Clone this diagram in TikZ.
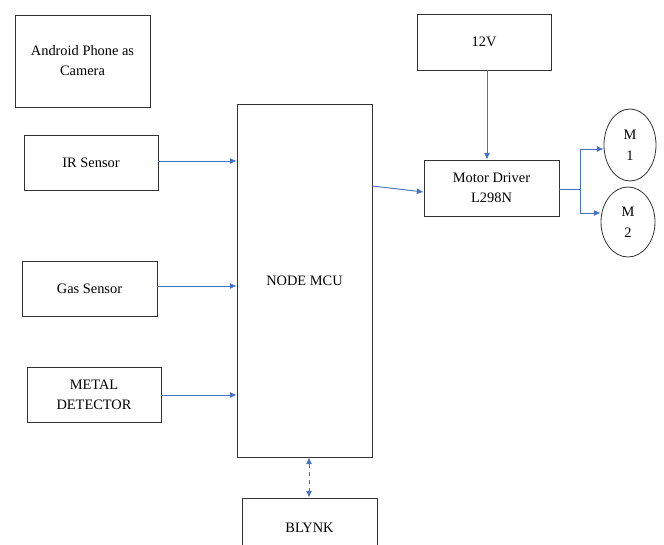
\documentclass[tikz,border=0pt]{standalone}
\usepackage{fontspec}
\setmainfont{Liberation Serif}
\usetikzlibrary{arrows.meta,shapes.geometric}
\definecolor{linkblue}{RGB}{68,114,196}
\newlength\pxu
\setlength\pxu{0.75pt}
\tikzset{
	blockbox/.style={draw=black!80, line width=0.6pt, align=center, font=\fontsize{10.8}{15}\selectfont, inner sep=0pt},
	motorbox/.style={draw=black!80, line width=0.6pt, ellipse, align=center, font=\fontsize{10.8}{16}\selectfont, inner sep=0pt},
	link/.style={draw=linkblue, line width=0.7pt, -{Latex[length=5pt,width=4.5pt]}}
}

\begin{document}
\begin{tikzpicture}[x=0.75pt, y=-0.75pt]
			%%%%% START %%%%%
			
			\useasboundingbox (0, 0) rectangle (664, 544);
			
			\node[blockbox, minimum width=135\pxu, minimum height=92\pxu] (phone) at (82.5, 61) {Android Phone as\\Camera};
			\node[blockbox, minimum width=134\pxu, minimum height=55\pxu] (ir) at (91, 162.5) {IR Sensor};
			\node[blockbox, minimum width=135\pxu, minimum height=55\pxu] (gas) at (89.5, 288.5) {Gas Sensor};
			\node[blockbox, minimum width=134\pxu, minimum height=55\pxu] (metal) at (94, 394.5) {METAL\\DETECTOR};
			
			\node[blockbox, minimum width=135\pxu, minimum height=353\pxu] (mcu) at (304.5, 280.5) {NODE MCU};
			
			\node[blockbox, minimum width=134\pxu, minimum height=56\pxu] (supply) at (484, 42) {12V};
			\node[blockbox, minimum width=135\pxu, minimum height=56\pxu] (driver) at (491.5, 188) {Motor Driver\\L298N};
			
			\node[motorbox, minimum width=52\pxu, minimum height=72\pxu] (mone) at (630, 145) {M\\1};
			\node[motorbox, minimum width=54\pxu, minimum height=70\pxu] (mtwo) at (628, 222) {M\\2};
			
			\node[blockbox, minimum width=135\pxu, minimum height=60\pxu] (blynk) at (309.5, 528) {BLYNK};
			
			\draw[link] (ir.east |- 0, 161) -- (mcu.west |- 0, 161);
			\draw[link] (gas.east |- 0, 286) -- (mcu.west |- 0, 286);
			\draw[link] (metal.east |- 0, 395) -- (mcu.west |- 0, 395);
			
			\draw[link] (mcu.east |- 0, 186) -- (driver.west |- 0, 192);
			\draw[link] (supply.south -| 487, 0) -- (driver.north -| 487, 0);
			
			\coordinate (fork) at (580, 189);
			\draw[draw=linkblue, line width=0.7pt] (driver.east |- fork) -- (fork);
			\draw[link] (fork) |- (mone.west |- 0, 149);
			\draw[link] (fork) |- (mtwo.west |- 0, 213);
			
			\draw[link, {Latex[length=5pt,width=4.5pt]}-{Latex[length=5pt,width=4.5pt]}, dashed] (mcu.south -| 309, 0) -- (blynk.north -| 309, 0);
			
			%%%%% END %%%%%
\end{tikzpicture}
\end{document}
